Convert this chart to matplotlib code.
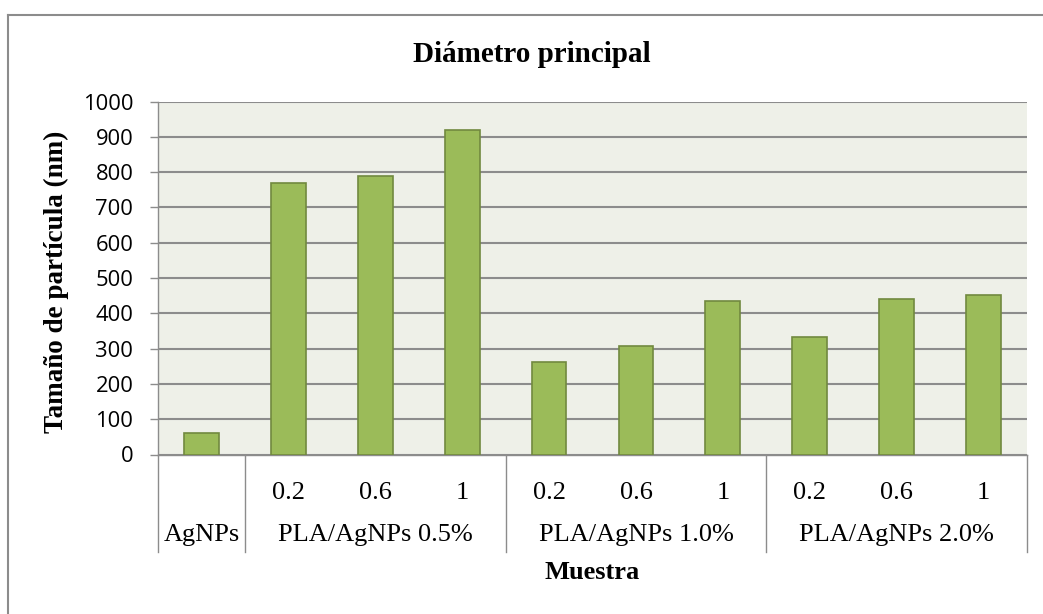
import numpy as np
import matplotlib.pyplot as plt
from matplotlib.lines import Line2D

# data
groups = ["AgNPs", "PLA/AgNPs 0.5%", "PLA/AgNPs 1.0%", "PLA/AgNPs 2.0%"]
group_sizes = [1, 3, 3, 3]
sub_labels = ["", "0.2", "0.6", "1", "0.2", "0.6", "1", "0.2", "0.6", "1"]
values = [60, 770, 790, 920, 263, 308, 436, 333, 440, 451]
y_ticks = [0, 100, 200, 300, 400, 500, 600, 700, 800, 900, 1000]

serif = "Liberation Serif"
bar_color = "#9BBB59"
edge_color = "#71893F"
grid_color = "#8C8C8C"

fig = plt.figure(figsize=(10.43, 6.14), dpi=100)
ax = fig.add_axes([158 / 1043, 1 - 454.5 / 614, 869 / 1043, 353 / 614])

x = np.arange(len(values))
ax.bar(x, values, width=0.4, color=bar_color, edgecolor=edge_color, linewidth=1.2, zorder=3)

ax.set_facecolor("#EEF0E8")
ax.set_xlim(-0.5, len(values) - 0.5)
ax.set_ylim(0, 1000)
ax.set_yticks(y_ticks)
ax.set_yticklabels([str(t) for t in y_ticks], fontsize=15.8, family="Open Sans")
ax.tick_params(axis="y", length=5.8, width=1, color=grid_color, pad=12)
ax.set_xticks([])
ax.grid(axis="y", color=grid_color, linewidth=1.5, zorder=1)
for s in ["top", "right"]:
    ax.spines[s].set_visible(False)
ax.spines["left"].set_color(grid_color)
ax.spines["bottom"].set_color(grid_color)
ax.spines["left"].set_linewidth(1)
ax.spines["bottom"].set_linewidth(1)

# multi-level category axis
trans = ax.get_xaxis_transform()
sep_bottom = -0.276
for i, lab in enumerate(sub_labels):
    if lab:
        ax.text(i, -0.109, lab, transform=trans, ha="center", va="center",
                fontsize=19, family=serif)
start = 0
edges = [-0.5]
for g, n in zip(groups, group_sizes):
    ax.text(start + (n - 1) / 2, -0.228, g, transform=trans, ha="center", va="center",
            fontsize=19, family=serif)
    start += n
    edges.append(start - 0.5)
for e in edges:
    ax.add_line(Line2D([e, e], [0, sep_bottom], transform=trans, color=grid_color,
                       linewidth=1, clip_on=False))

ax.set_ylabel("Tamaño de partícula (nm)", fontsize=19.5, family=serif, fontweight="bold")
ax.yaxis.set_label_coords(-0.102, 0.49)
ax.text(0.5, -0.333, "Muestra", transform=ax.transAxes, ha="center", va="center",
        fontsize=19, family=serif, fontweight="bold")
fig.text(532 / 1043, 1 - 55 / 614, "Diámetro principal", ha="center", va="center",
         fontsize=21, family=serif, fontweight="bold")

# outer chart frame (only top and left visible in the crop)
fig.add_artist(Line2D([8 / 1043, 1], [1 - 15 / 614, 1 - 15 / 614], transform=fig.transFigure,
                      color="#8C8C8C", linewidth=1.5))
fig.add_artist(Line2D([8 / 1043, 8 / 1043], [0, 1 - 15 / 614], transform=fig.transFigure,
                      color="#8C8C8C", linewidth=1.5))

fig.savefig("out.png", dpi=100)
